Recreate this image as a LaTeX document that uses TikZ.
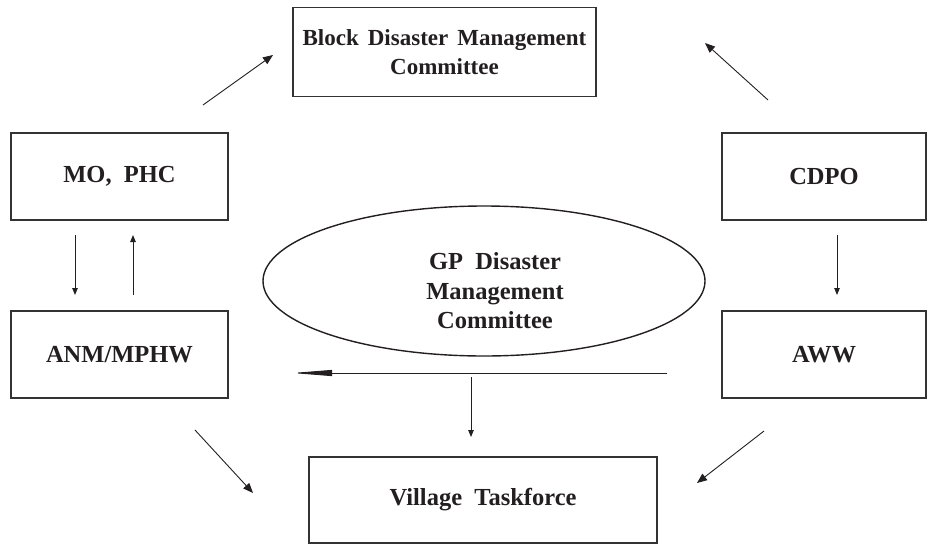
\documentclass[tikz,border=0pt]{standalone}
\usepackage{fontspec}
\setmainfont{Liberation Serif}
\usetikzlibrary{arrows.meta,shapes.geometric,calc}
\definecolor{ink}{HTML}{231F20}
\definecolor{rule}{HTML}{333333}
\newcommand\diagfont{\fontsize{24.5}{29.5}\selectfont\bfseries}
\newcommand\wsp{\hspace{9pt}}
\begin{document}
\begin{tikzpicture}[x=1pt,y=-1pt,
  box/.style={draw=rule, line width=1.7pt, rectangle, inner sep=0pt,
    align=center, text=ink, font=\diagfont},
  oval/.style={draw=ink, line width=1.4pt, ellipse, inner sep=0pt},
  lbl/.style={align=center, text=ink, font=\diagfont, inner sep=0pt},
  arr/.style={draw=ink, line width=0.9pt,
    -{Triangle[length=10pt,width=8pt]}},
  varr/.style={draw=ink, line width=0.9pt,
    -{Triangle[length=7pt,width=5.5pt]}},
  longarr/.style={draw=ink, line width=0.9pt,
    -{Triangle[length=40pt,width=6pt]}}]
\useasboundingbox (0,0) rectangle (928,544);

% boxes
\node[box, minimum width=303pt, minimum height=89pt,
  font=\fontsize{23}{29.5}\selectfont\bfseries] (block) at (444.5,52)
  {Block\wsp Disaster\wsp Management\\Committee};
\node[box, minimum width=217pt, minimum height=87pt] (mo) at (119.5,176.5)
  {MO,\ \ PHC};
\node[box, minimum width=217pt, minimum height=87pt] (anm) at (119.5,354.5)
  {ANM/MPHW};
\node[box, minimum width=204pt, minimum height=87pt] (cdpo) at (824,176.5)
  {CDPO};
\node[box, minimum width=204pt, minimum height=87pt] (aww) at (824,354.5)
  {AWW};
\node[box, minimum width=348pt, minimum height=86pt] (village) at (483,500)
  {Village\ \ Taskforce};

% central committee
\node[oval, minimum width=442pt, minimum height=150pt] (gp) at (484,281) {};
\node[lbl] (gptext) at ($(gp.center)+(11,10)$)
  {GP\ \ Disaster\\Management\\Committee};

% connector end points
\coordinate (mo-up)      at (203,105);
\coordinate (block-l)    at (273,55);
\coordinate (cdpo-up)    at (768,100);
\coordinate (block-r)    at (705,43);
\coordinate (mo-dn)      at (75,235);
\coordinate (anm-in)     at (75,295);
\coordinate (anm-up)     at (133,295);
\coordinate (mo-in)      at (133,235);
\coordinate (cdpo-dn)    at (837,235);
\coordinate (aww-in)     at (837,295);
\coordinate (aww-w)      at (667,373);
\coordinate (anm-e)      at (292,373);
\coordinate (gp-dn)      at (471,377);
\coordinate (village-t)  at (471,437);
\coordinate (anm-dn)     at (195,430);
\coordinate (village-l)  at (253,493);
\coordinate (aww-dn)     at (764,431);
\coordinate (village-r)  at (697,483);

% connectors
\draw[arr] (mo-up) -- (block-l);
\draw[arr] (cdpo-up) -- (block-r);
\draw[varr] (mo-dn) -- (anm-in);
\draw[varr] (anm-up) -- (mo-in);
\draw[varr] (cdpo-dn) -- (aww-in);
\draw[longarr] (aww-w) -- (anm-e);
\draw[varr] (gp-dn) -- (village-t);
\draw[arr] (anm-dn) -- (village-l);
\draw[arr] (aww-dn) -- (village-r);
\end{tikzpicture}
\end{document}
